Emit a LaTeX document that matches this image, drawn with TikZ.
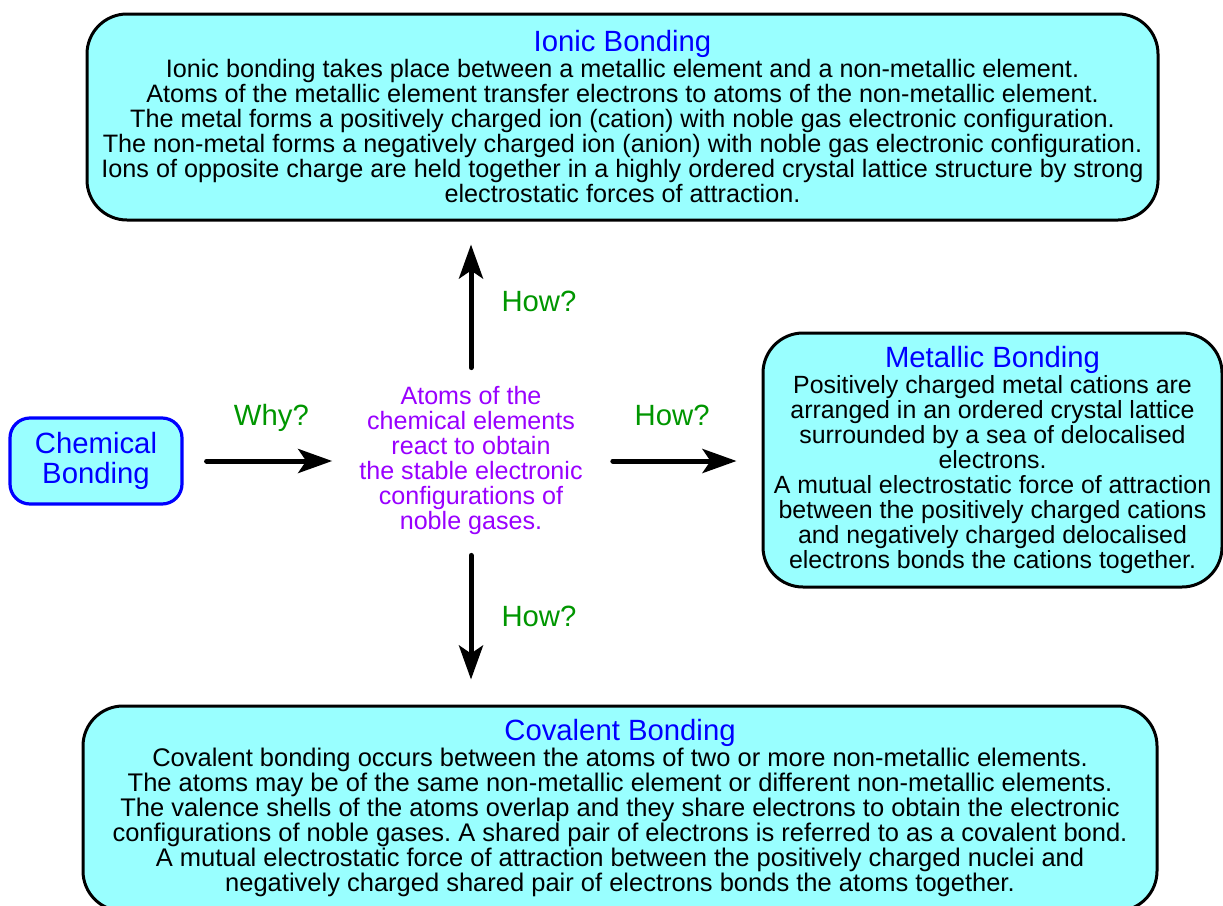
\documentclass[tikz,border=0pt]{standalone}
\usepackage{fontspec}
\setmainfont{Liberation Sans}
\usetikzlibrary{arrows.meta}
\definecolor{boxcyan}{RGB}{153,255,255}
\definecolor{titleblue}{RGB}{0,0,255}
\definecolor{askgreen}{RGB}{0,150,0}
\definecolor{reactpurple}{RGB}{153,0,255}
\newcommand\boxtitle[1]{{\fontsize{29.3}{30}\selectfont\color{titleblue}#1}}
\frenchspacing

\begin{document}
\begin{tikzpicture}[x=1pt,y=-1pt,
    box/.style={draw=black,line width=3pt,fill=boxcyan,rounded corners=40pt,align=center,inner sep=0pt},
    link/.style={line width=5pt,line cap=round,-{Stealth[length=34pt,width=24pt,inset=8pt]}},
    ask/.style={text=askgreen,font=\fontsize{29.3}{30}\selectfont,inner sep=0pt,text height=20pt,text depth=6pt}]
            \clip (0,0) rectangle (1223,905);
            \fill[white] (0,0) rectangle (1223,905);
            %\node at (611,452) {centre};
            \node[box,minimum width=1071pt,minimum height=206pt,font=\fontsize{25.2}{25}\selectfont] (ionic) at (622.5,117) {\boxtitle{Ionic Bonding}\\[1pt]
                Ionic bonding takes place between a metallic element and a non-metallic element.\\
                Atoms of the metallic element transfer electrons to atoms of the non-metallic element.\\
                The metal forms a positively charged ion (cation) with noble gas electronic configuration.\\
                The non-metal forms a negatively charged ion (anion) with noble gas electronic configuration.\\
                Ions of opposite charge are held together in a highly ordered crystal lattice structure by strong\\
                electrostatic forces of attraction.};
            \node[box,minimum width=459pt,minimum height=254pt,font=\fontsize{24.9}{25}\selectfont] (metal) at (992.5,460) {\boxtitle{Metallic Bonding}\\[1pt]
                Positively charged metal cations are\\
                arranged in an ordered crystal lattice\\
                surrounded by a sea of delocalised\\
                electrons.\\
                A mutual electrostatic force of attraction\\
                between the positively charged cations\\
                and negatively charged delocalised\\
                electrons bonds the cations together.};
            \node[box,minimum width=1074pt,minimum height=205pt,font=\fontsize{25.5}{25}\selectfont] (covalent) at (620,808.5) {\boxtitle{Covalent Bonding}\\[1pt]
                Covalent bonding occurs between the atoms of two or more non-metallic elements.\\
                The atoms may be of the same non-metallic element or different non-metallic elements.\\
                The valence shells of the atoms overlap and they share electrons to obtain the electronic\\
                configurations of noble gases. A shared pair of electrons is referred to as a covalent bond.\\
                A mutual electrostatic force of attraction between the positively charged nuclei and\\
                negatively charged shared pair of electrons bonds the atoms together.};
            \node[draw=titleblue,line width=3.2pt,fill=boxcyan,rounded corners=20pt,align=center,inner sep=0pt,
                minimum width=172pt,minimum height=86pt,text=titleblue,font=\fontsize{29.3}{30}\selectfont] (chem) at (96,461) {Chemical\\Bonding};
            \node[align=center,inner sep=0pt,text=reactpurple,font=\fontsize{25.1}{25}\selectfont] (react) at (471,461) {Atoms of the\\
                chemical elements\\
                react to obtain\\
                the stable electronic\\
                configurations of\\
                noble gases.};
            \draw[link,shorten <=23pt,shorten >=27pt] (chem.east) -- (chem.east -| react.west) node[ask,midway,above=27pt] {Why?};
            \draw[link,shorten <=30pt,shorten >=25pt] (react.east) -- (react.east -| metal.west) node[ask,midway,above=27pt] {How?};
            \draw[link,shorten <=19pt,shorten >=23pt] (react.north) -- (react.north |- ionic.south) node[ask,midway,right=28pt] {How?};
            \draw[link,shorten <=20pt,shorten >=25pt] (react.south) -- (react.south |- covalent.north) node[ask,midway,right=28pt] {How?};
        \end{tikzpicture}
\end{document}
